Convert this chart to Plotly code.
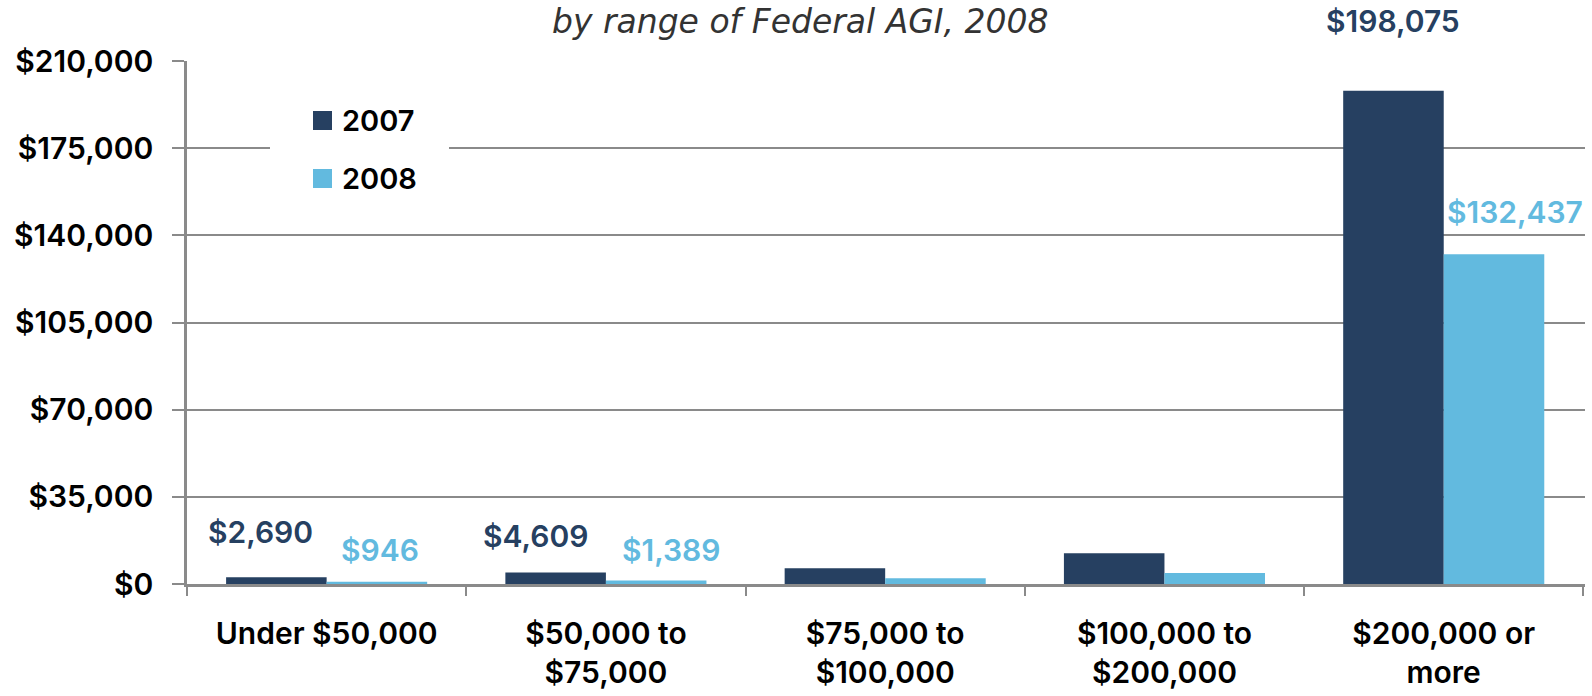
import plotly.graph_objects as go

# ---------------- data ----------------
categories = ["Under $50,000", "$50,000 to<br>$75,000", "$75,000 to<br>$100,000",
              "$100,000 to<br>$200,000", "$200,000 or<br>more"]
series_names = ["2007", "2008"]
values_2007 = [2690, 4609, 6300, 12300, 198075]
values_2008 = [946, 1389, 2300, 4400, 132437]
labels_2007 = ["$2,690", "$4,609", None, None, "$198,075"]
labels_2008 = ["$946", "$1,389", None, None, "$132,437"]
y_tick_values = [0, 35000, 70000, 105000, 140000, 175000, 210000]
y_tick_labels = ["$0", "$35,000", "$70,000", "$105,000", "$140,000", "$175,000", "$210,000"]
subtitle = "by range of Federal AGI, 2008"

# ---------------- style ----------------
W, H = 1592, 696
M_L, M_R, M_T, M_B = 187, 7, 61, 112
PW, PH = W - M_L - M_R, H - M_T - M_B
DARK = "#264061"
LIGHT = "#62BADF"
GRID = "#8A8A8A"
FONT = "Inter"
BARGAP = 0.28
bar_w = (1 - BARGAP) / 2


def px_x(p):
    return (p - M_L) / PW


def px_y(p):
    return 1 - (p - M_T) / PH


# label placement (pixel offsets relative to bar top / bar centre)
shift_y_2007 = [45, 37, 0, 0, 70]
shift_x_2007 = [-16, -20, 0, 0, 0]
shift_y_2008 = [32, 31, 0, 0, 42]
shift_x_2008 = [3, 15, 0, 0, 21]

fig = go.Figure()
fig.add_bar(x=categories, y=values_2007, name=series_names[0], marker_color=DARK,
            marker_line_width=0, showlegend=False)
fig.add_bar(x=categories, y=values_2008, name=series_names[1], marker_color=LIGHT,
            marker_line_width=0, showlegend=False)

# data labels
for vals, labs, sx, sy, col, off in [
    (values_2007, labels_2007, shift_x_2007, shift_y_2007, DARK, -bar_w / 2),
    (values_2008, labels_2008, shift_x_2008, shift_y_2008, LIGHT, bar_w / 2),
]:
    for i, (v, t) in enumerate(zip(vals, labs)):
        if t is None:
            continue
        fig.add_annotation(x=i + off, y=v, xref="x", yref="y", text=t, showarrow=False,
                           xanchor="center", yanchor="middle", xshift=sx[i], yshift=sy[i],
                           font=dict(family=FONT, size=30, color=col, weight=600))

# subtitle
fig.add_annotation(x=px_x(800), y=px_y(0), xref="paper", yref="paper",
                   text=subtitle, showarrow=False, xanchor="center", yanchor="top",
                   font=dict(family="DejaVu Sans", size=33, color="#333333", style="italic",
                             weight=400))

# legend (custom, with large square keys)
fig.add_shape(type="rect", xref="paper", yref="paper", layer="above",
              x0=px_x(270), x1=px_x(449), y0=px_y(205), y1=px_y(95),
              fillcolor="white", line_width=0)
for k, (nm, col) in enumerate(zip(series_names, [DARK, LIGHT])):
    cy = 120.5 + k * 58
    fig.add_shape(type="rect", xref="paper", yref="paper", layer="above",
                  x0=px_x(313), x1=px_x(332), y0=px_y(cy + 9.5), y1=px_y(cy - 9.5),
                  fillcolor=col, line_width=0)
    fig.add_annotation(x=px_x(340), y=px_y(cy), xref="paper", yref="paper", text=nm,
                       showarrow=False, xanchor="left", yanchor="middle",
                       font=dict(family=FONT, size=29, color="black", weight=600))

fig.update_layout(
    width=W, height=H,
    margin=dict(l=M_L, r=M_R, t=M_T, b=M_B, pad=0, autoexpand=False),
    paper_bgcolor="white", plot_bgcolor="white",
    barmode="group", bargap=BARGAP, bargroupgap=0,
    font=dict(family=FONT, color="black", weight=600),
    showlegend=False,
    xaxis=dict(type="category", automargin=False,
               showline=True, linecolor=GRID, linewidth=2.5,
               ticks="outside", tickson="boundaries", ticklen=9, tickwidth=2, tickcolor=GRID,
               showgrid=False, zeroline=False, ticklabelstandoff=21,
               tickfont=dict(family=FONT, size=30, color="black", weight=600)),
    yaxis=dict(range=[0, 210000], tickmode="array", tickvals=y_tick_values, ticktext=y_tick_labels,
               automargin=False,
               showline=True, linecolor=GRID, linewidth=2.5,
               ticks="outside", ticklen=12, tickwidth=2, tickcolor=GRID,
               showgrid=True, gridcolor=GRID, gridwidth=2, zeroline=False,
               ticklabelstandoff=13,
               tickfont=dict(family=FONT, size=30, color="black", weight=600)),
)

fig.write_html("out.html", config={"displayModeBar": False},
               post_script="document.body.style.margin='0';")
